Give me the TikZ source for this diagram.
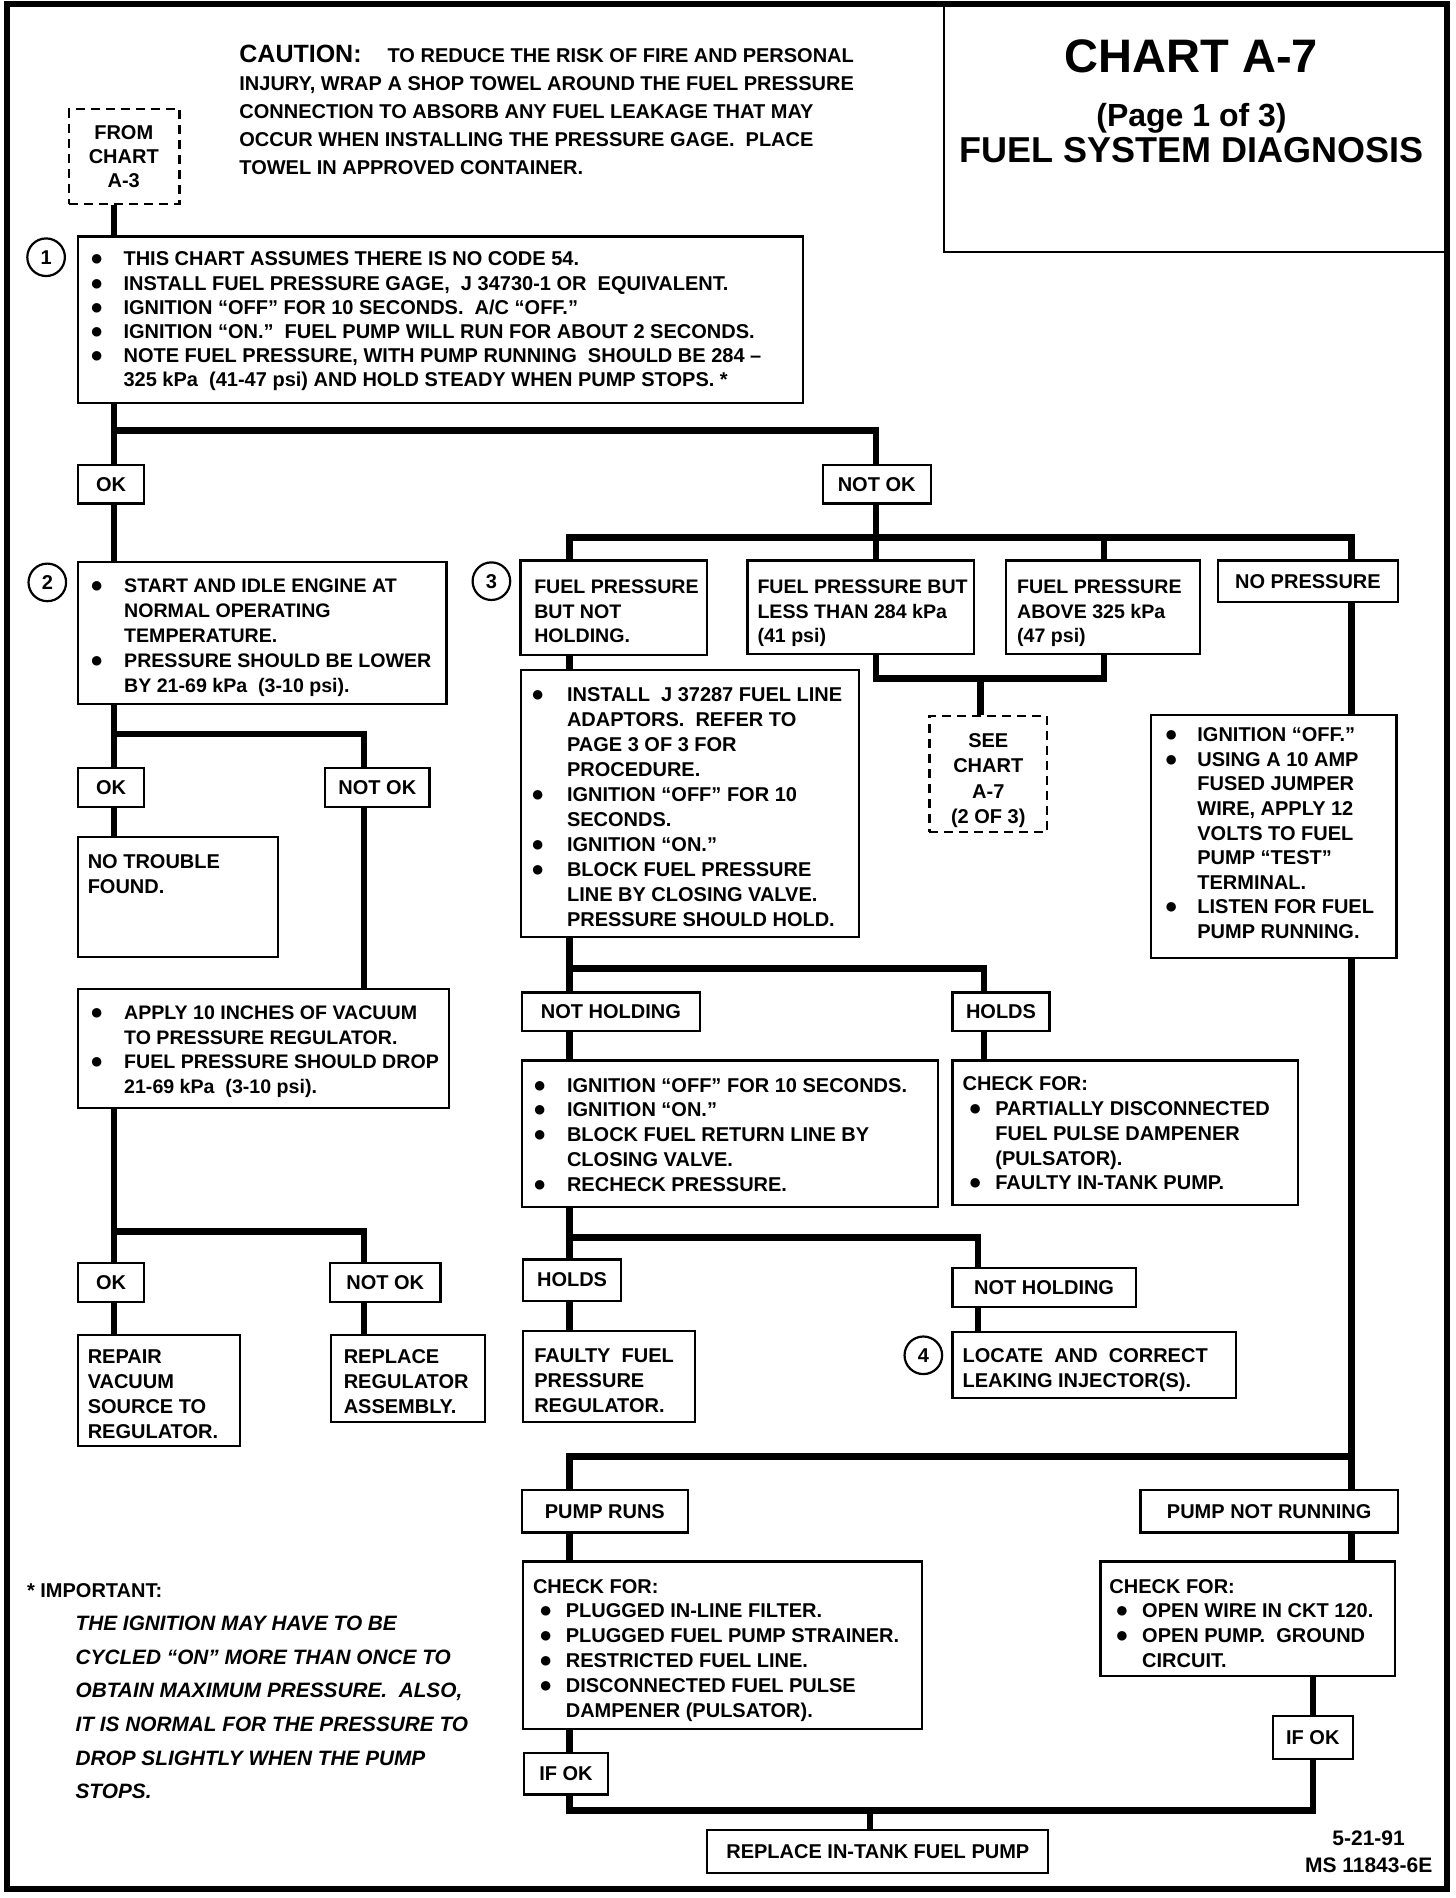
\documentclass[tikz,border=0pt]{standalone}
\usepackage{fontspec}
\setmainfont{Liberation Sans}
\usetikzlibrary{fit}
\newcommand\bul{{\fontsize{11}{11}\selectfont ●}}
\newcommand\B[1][17pt]{\makebox[#1][l]{\bul}}
\newcommand\I[1][17pt]{\hspace*{#1}}
\newcommand\TL[1]{\vtop{\halign{##\hfil\cr#1\crcr}}}
\newcommand\TC[1]{\vtop{\halign{\hfil##\hfil\cr#1\crcr}}}
\begin{document}
\begin{tikzpicture}[x=0.6067pt,y=-0.6067pt,
  box/.style={draw,line width=1.1pt,inner sep=0pt},
  dbox/.style={box,dash pattern=on 4.5pt off 3pt},
  conn/.style={line width=3.3pt},
  txt/.style={inner sep=0pt,anchor=base west,font=\bfseries\fontsize{10}{12.4}\selectfont},
  ntxt/.style={txt,font=\bfseries\fontsize{9.8}{12.4}\selectfont},
  ctxt/.style={txt,anchor=base},
  lbl/.style={inner sep=0pt,font=\bfseries\fontsize{10}{12}\selectfont},
  num/.style={draw,circle,line width=1.1pt,minimum size=18.8pt,inner sep=0pt,font=\bfseries\fontsize{10}{12}\selectfont}]
\useasboundingbox (0,0) rectangle (1200,1564.3);
\draw[line width=3pt] (5.5,3.5) rectangle (1192.5,1557);
% trunk x positions
\coordinate (xA) at (94,0);
\coordinate (x2) at (300,0);
\coordinate (xB) at (469.5,0);
\coordinate (x3b) at (722,0);
\coordinate (x3c) at (910,0);
\coordinate (xS) at (808,0);
\coordinate (xH) at (811,0);
\coordinate (xN) at (806,0);
\coordinate (xR) at (1114,0);
\coordinate (xL2) at (1082,0);
\coordinate (xM) at (717,0);
% title
\node[box,fit={(778,3.5) (1192.5,208)}] (title) {};
\node[ctxt,font=\bfseries\fontsize{23.5}{24}\selectfont] (t1) at (982,60) {CHART A-7};
\node[ctxt,font=\bfseries\fontsize{16}{16}\selectfont] (t2) at (982,104) {(Page 1 of 3)};
\node[ctxt,font=\bfseries\fontsize{18}{18}\selectfont] (t3) at (982,134) {FUEL SYSTEM DIAGNOSIS};
% caution
\node[txt,font=\bfseries\fontsize{10}{13.95}\selectfont] (caution) at (197,51.5) {\TL{{\fontsize{12.5}{13}\selectfont CAUTION:}\hspace{13pt}TO REDUCE THE RISK OF FIRE AND PERSONAL\cr
INJURY, WRAP A SHOP TOWEL AROUND THE FUEL PRESSURE\cr
CONNECTION TO ABSORB ANY FUEL LEAKAGE THAT MAY\cr
OCCUR WHEN INSTALLING THE PRESSURE GAGE.\ \ PLACE\cr
TOWEL IN APPROVED CONTAINER.\cr}};
% from chart A-3
\node[dbox,fit={(57,90) (148,168)}] (fromA3) {};
\node[ctxt,font=\bfseries\fontsize{10}{12.1}\selectfont] (fromA3t) at (102,115) {\TC{FROM\cr CHART\cr A-3\cr}};
% box 1
\node[box,fit={(64,195) (662,332)}] (b1) {};
\node[txt,font=\bfseries\fontsize{10}{12.07}\selectfont] (b1t) at (74,219.2) {\TL{\B[16.7pt]THIS CHART ASSUMES THERE IS NO CODE 54.\cr
\B[16.7pt]INSTALL FUEL PRESSURE GAGE,\ \ J 34730-1 OR\ \ EQUIVALENT.\cr
\B[16.7pt]IGNITION “OFF” FOR 10 SECONDS.\ \ A/C “OFF.”\cr
\B[16.7pt]IGNITION “ON.”\ \ FUEL PUMP WILL RUN FOR ABOUT 2 SECONDS.\cr
\B[16.7pt]NOTE FUEL PRESSURE, WITH PUMP RUNNING\ \ SHOULD BE 284 –\cr
\I[16.7pt]325 kPa\ \ (41-47 psi) AND HOLD STEADY WHEN PUMP STOPS. *\cr}};
\node[num] (c1) at (38,212) {1};
\node[box,fit={(64,383) (119,415)}] (ok1) {};
\node[lbl] at (ok1) {OK};
\node[box,fit={(678,383) (767,415)}] (nok1) {};
\node[lbl] at (nok1) {NOT OK};
% left column
\node[box,fit={(64,463) (368,580)}] (b2) {};
\node[ntxt] (b2t) at (74,488.6) {\TL{\B START AND IDLE ENGINE AT\cr
\I NORMAL OPERATING\cr
\I TEMPERATURE.\cr
\B PRESSURE SHOULD BE LOWER\cr
\I BY 21-69 kPa\ \ (3-10 psi).\cr}};
\node[num] (c2) at (39,480) {2};
\node[box,fit={(64,633) (119,665)}] (ok2) {};
\node[lbl] at (ok2) {OK};
\node[box,fit={(268,633) (354,665)}] (nok2) {};
\node[lbl] at (nok2) {NOT OK};
\node[box,fit={(64,690) (229,789)}] (ntf) {};
\node[txt] (ntft) at (72,716) {\TL{NO TROUBLE\cr FOUND.\cr}};
\node[box,fit={(64,815) (370,913)}] (vac) {};
\node[ntxt] (vact) at (74,840) {\TL{\B APPLY 10 INCHES OF VACUUM\cr
\I TO PRESSURE REGULATOR.\cr
\B FUEL PRESSURE SHOULD DROP\cr
\I 21-69 kPa\ \ (3-10 psi).\cr}};
\node[box,fit={(64,1041) (119,1073)}] (ok3) {};
\node[lbl] at (ok3) {OK};
\node[box,fit={(272,1041) (363,1073)}] (nok3) {};
\node[lbl] at (nok3) {NOT OK};
\node[box,fit={(64,1100) (198,1192)}] (rep) {};
\node[txt] (rept) at (72,1124) {\TL{REPAIR\cr VACUUM\cr SOURCE TO\cr REGULATOR.\cr}};
\node[box,fit={(273,1100) (400,1172)}] (rrg) {};
\node[txt] (rrgt) at (283,1124) {\TL{REPLACE\cr REGULATOR\cr ASSEMBLY.\cr}};
% step 3 row
\node[num] (c3) at (405,479) {3};
\node[box,fit={(429,462) (583,540)}] (b3a) {};
\node[ntxt] (b3at) at (440,489) {\TL{FUEL PRESSURE\cr BUT NOT\cr HOLDING.\cr}};
\node[box,fit={(616,462) (803,539)}] (b3b) {};
\node[ntxt] (b3bt) at (624,489) {\TL{FUEL PRESSURE BUT\cr LESS THAN 284 kPa\cr (41 psi)\cr}};
\node[box,fit={(829,462) (989,539)}] (b3c) {};
\node[ntxt] (b3ct) at (838,489) {\TL{FUEL PRESSURE\cr ABOVE 325 kPa\cr (47 psi)\cr}};
\node[box,fit={(1004,462) (1152,496)}] (nop) {};
\node[lbl] at (nop) {NO PRESSURE};
\node[dbox,fit={(766,590) (863,686)}] (see) {};
\node[ctxt,font=\bfseries\fontsize{10}{12.74}\selectfont] (seet) at (814.5,616) {\TC{SEE\cr CHART\cr A-7\cr (2 OF 3)\cr}};
\node[box,fit={(429.5,552) (708,772.5)}] (inst) {};
\node[txt,font=\bfseries\fontsize{10}{12.5}\selectfont] (instt) at (437.5,578.3) {\TL{\B[17.9pt]INSTALL\ \ J 37287 FUEL LINE\cr
\I[17.9pt]ADAPTORS.\ \ REFER TO\cr
\I[17.9pt]PAGE 3 OF 3 FOR\cr
\I[17.9pt]PROCEDURE.\cr
\B[17.9pt]IGNITION “OFF” FOR 10\cr
\I[17.9pt]SECONDS.\cr
\B[17.9pt]IGNITION “ON.”\cr
\B[17.9pt]BLOCK FUEL PRESSURE\cr
\I[17.9pt]LINE BY CLOSING VALVE.\cr
\I[17.9pt]PRESSURE SHOULD HOLD.\cr}};
\node[box,fit={(948.5,589.3) (1151,789.3)}] (ign) {};
\node[txt,font=\bfseries\fontsize{10}{12.3}\selectfont] (ignt) at (959.5,611.3) {\TL{\B[16.4pt]IGNITION “OFF.”\cr
\B[16.4pt]USING A 10 AMP\cr
\I[16.4pt]FUSED JUMPER\cr
\I[16.4pt]WIRE, APPLY 12\cr
\I[16.4pt]VOLTS TO FUEL\cr
\I[16.4pt]PUMP “TEST”\cr
\I[16.4pt]TERMINAL.\cr
\B[16.4pt]LISTEN FOR FUEL\cr
\I[16.4pt]PUMP RUNNING.\cr}};
\node[box,fit={(430,818) (577,850)}] (nh1) {};
\node[lbl] at (nh1) {NOT HOLDING};
\node[box,fit={(785,818) (865,850)}] (h1) {};
\node[lbl] at (h1) {HOLDS};
\node[box,fit={(430,874) (773,995)}] (b4) {};
\node[txt] (b4t) at (439,900) {\TL{\B IGNITION “OFF” FOR 10 SECONDS.\cr
\B IGNITION “ON.”\cr
\B BLOCK FUEL RETURN LINE BY\cr
\I CLOSING VALVE.\cr
\B RECHECK PRESSURE.\cr}};
\node[box,fit={(785,874) (1070,993)}] (chk1) {};
\node[txt] (chk1t) at (793,899) {\TL{CHECK FOR:\cr
\hspace*{3pt}\B[13.4pt]PARTIALLY DISCONNECTED\cr
\I[16.4pt]FUEL PULSE DAMPENER\cr
\I[16.4pt](PULSATOR).\cr
\hspace*{3pt}\B[13.4pt]FAULTY IN-TANK PUMP.\cr}};
\node[box,fit={(431,1038) (512,1072)}] (h2) {};
\node[lbl] at (h2) {HOLDS};
\node[box,fit={(785,1045) (936,1077)}] (nh2) {};
\node[lbl] at (nh2) {NOT HOLDING};
\node[box,fit={(431,1097) (573,1172)}] (flt) {};
\node[txt] (fltt) at (440,1123) {\TL{FAULTY\ \ FUEL\cr PRESSURE\cr REGULATOR.\cr}};
\node[num] (c4) at (761,1117) {4};
\node[box,fit={(785,1098) (1019,1152)}] (loc) {};
\node[txt] (loct) at (793,1123) {\TL{LOCATE\ \ AND\ \ CORRECT\cr LEAKING INJECTOR(S).\cr}};
% pump section
\node[box,fit={(430,1228) (567,1263)}] (pr) {};
\node[lbl] at (pr) {PUMP RUNS};
\node[box,fit={(940,1228) (1152,1263)}] (pnr) {};
\node[lbl] at (pnr) {PUMP NOT RUNNING};
\node[box,fit={(431,1287) (760,1425)}] (chk2) {};
\node[txt] (chk2t) at (439,1313) {\TL{CHECK FOR:\cr
\hspace*{3pt}\B[13.4pt]PLUGGED IN-LINE FILTER.\cr
\hspace*{3pt}\B[13.4pt]PLUGGED FUEL PUMP STRAINER.\cr
\hspace*{3pt}\B[13.4pt]RESTRICTED FUEL LINE.\cr
\hspace*{3pt}\B[13.4pt]DISCONNECTED FUEL PULSE\cr
\I[16.4pt]DAMPENER (PULSATOR).\cr}};
\node[box,fit={(907,1287) (1150,1381)}] (chk3) {};
\node[txt] (chk3t) at (914,1313) {\TL{CHECK FOR:\cr
\hspace*{3pt}\B[13.4pt]OPEN WIRE IN CKT 120.\cr
\hspace*{3pt}\B[13.4pt]OPEN PUMP.\ \ GROUND\cr
\I[16.4pt]CIRCUIT.\cr}};
\node[box,fit={(432,1445) (501,1479)}] (ifl) {};
\node[lbl] at (ifl) {IF OK};
\node[box,fit={(1049,1414) (1115,1450)}] (ifr) {};
\node[lbl] at (ifr) {IF OK};
\node[box,fit={(583,1508) (864,1544)}] (repl) {};
\node[lbl] at (repl) {REPLACE IN-TANK FUEL PUMP};
% note and ids
\node[txt] (imp) at (22,1317) {* IMPORTANT:};
\node[txt,font=\bfseries\itshape\fontsize{10.4}{16.8}\selectfont] (impt) at (62,1344) {\TL{THE IGNITION MAY HAVE TO BE\cr
CYCLED “ON” MORE THAN ONCE TO\cr
OBTAIN MAXIMUM PRESSURE.\ \ ALSO,\cr
IT IS NORMAL FOR THE PRESSURE TO\cr
DROP SLIGHTLY WHEN THE PUMP\cr
STOPS.\cr}};
\node[ctxt,font=\bfseries\fontsize{10.5}{13.3}\selectfont] (ids) at (1128,1521) {\TC{5-21-91\cr MS 11843-6E\cr}};
% connectors
\draw[conn] (fromA3.south -| xA) -- (b1.north -| xA);
\draw[conn] (b1.south -| xA) -- (ok1.north -| xA);
\draw[conn] (xA |- 0,355) -| (nok1.north -| x3b);
\draw[conn] (ok1.south -| xA) -- (b2.north -| xA);
\draw[conn] (nok1.south -| x3b) -- (b3b.north -| x3b);
\draw[conn] (b3a.north -| xB) -- (xB |- 0,443) -- (xR |- 0,443) -- (nop.north -| xR);
\draw[conn] (x3c |- 0,443) -- (b3c.north -| x3c);
\draw[conn] (b2.south -| xA) -- (ok2.north -| xA);
\draw[conn] (xA |- 0,605) -| (nok2.north -| x2);
\draw[conn] (ok2.south -| xA) -- (ntf.north -| xA);
\draw[conn] (nok2.south -| x2) -- (vac.north -| x2);
\draw[conn] (vac.south -| xA) -- (ok3.north -| xA);
\draw[conn] (xA |- 0,1015) -| (nok3.north -| x2);
\draw[conn] (ok3.south -| xA) -- (rep.north -| xA);
\draw[conn] (nok3.south -| x2) -- (rrg.north -| x2);
\draw[conn] (b3b.south -| x3b) -- (x3b |- 0,559) -- (x3c |- 0,559) -- (b3c.south -| x3c);
\draw[conn] (xS |- 0,559) -- (see.north -| xS);
\draw[conn] (b3a.south -| xB) -- (inst.north -| xB);
\draw[conn] (nop.south -| xR) -- (ign.north -| xR);
\draw[conn] (inst.south -| xB) -- (nh1.north -| xB);
\draw[conn] (xB |- 0,798) -| (h1.north -| xH);
\draw[conn] (nh1.south -| xB) -- (b4.north -| xB);
\draw[conn] (h1.south -| xH) -- (chk1.north -| xH);
\draw[conn] (b4.south -| xB) -- (h2.north -| xB);
\draw[conn] (xB |- 0,1020) -| (nh2.north -| xN);
\draw[conn] (h2.south -| xB) -- (flt.north -| xB);
\draw[conn] (nh2.south -| xN) -- (loc.north -| xN);
\draw[conn] (ign.south -| xR) -- (pnr.north -| xR);
\draw[conn] (xR |- 0,1200.5) -- (xB |- 0,1200.5) -- (pr.north -| xB);
\draw[conn] (pr.south -| xB) -- (chk2.north -| xB);
\draw[conn] (pnr.south -| xR) -- (chk3.north -| xR);
\draw[conn] (chk3.south -| xL2) -- (ifr.north -| xL2);
\draw[conn] (chk2.south -| xB) -- (ifl.north -| xB);
\draw[conn] (ifl.south -| xB) -- (xB |- 0,1492) -- (xL2 |- 0,1492) -- (ifr.south -| xL2);
\draw[conn] (xM |- 0,1492) -- (repl.north -| xM);
\end{tikzpicture}
\end{document}
